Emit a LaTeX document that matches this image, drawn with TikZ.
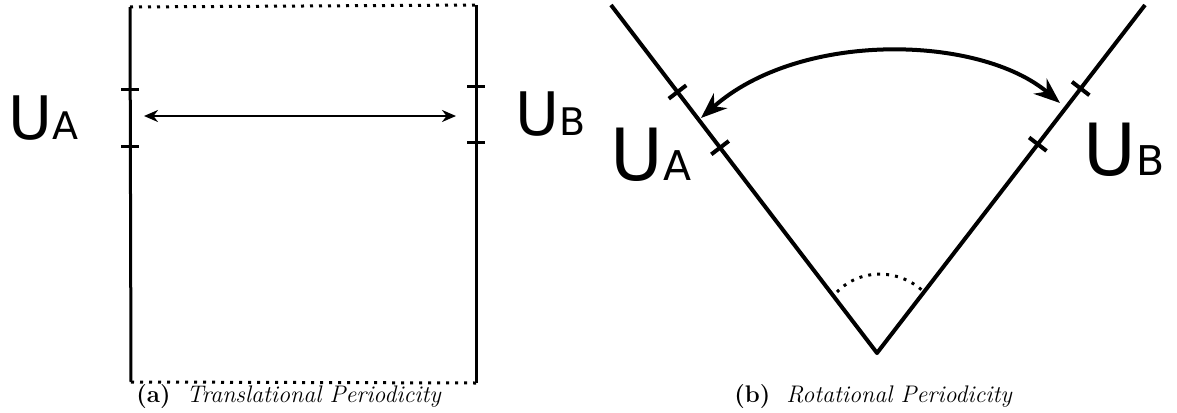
\documentclass[tikz,border=0pt]{standalone}
\usepackage{fontspec}
\newfontfamily\labelfont{DejaVu Sans}
\usetikzlibrary{calc,arrows.meta}

\newcommand{\portlabel}[3]{{\fontsize{#1}{#1}\selectfont U}{\fontsize{#2}{#2}\selectfont #3}}

\begin{document}
\begin{tikzpicture}[x=0.5pt, y=-0.5pt, line join=round]
\useasboundingbox (0,0) rectangle (1177,412);

\tikzset{
  wall/.style={line width=1.5pt},
  wedge/.style={line width=2pt},
  openside/.style={line width=1.5pt, dash pattern=on 1.5pt off 3pt},
  ulabel/.style={inner sep=0pt, anchor=base west, font=\labelfont},
  subcap/.style={inner sep=0pt, anchor=base west, font=\fontsize{12}{14}\selectfont},
}

% (a) translational periodicity
\coordinate (tl) at (130,7);
\coordinate (tr) at (476,5);
\coordinate (bl) at (131,382);
\coordinate (br) at (476,383);
\draw[wall] (tl) -- (bl);
\draw[wall] (tr) -- (br);
\draw[openside] (tl) -- (tr);
\draw[openside] (bl) -- (br);

% boundary patches
\foreach \y in {89,146} \draw[wall] (121,\y) -- (139,\y);
\foreach \y in {86,142} \draw[wall] (467,\y) -- (485,\y);

\coordinate (pa) at (144,116);
\coordinate (pb) at (456,116);
\draw[{Stealth[length=7pt,width=6pt]}-{Stealth[length=7pt,width=6pt]}, line width=1.2pt] (pa) -- (pb);

\node[ulabel] (uaL) at (8,139) {\portlabel{30}{19}{A}};
\node[ulabel] (ubL) at (515,135) {\portlabel{30}{19}{B}};

\node[subcap] (capa) at (136,402) {\textbf{(a)}\hspace{8pt}\textit{Translational Periodicity}};

% (b) rotational periodicity
\coordinate (apex) at (877,353);
\coordinate (wl) at (611,5);
\coordinate (wr) at (1145,5);
\draw[wedge] (wl) -- (apex) -- (wr);

% boundary patches
\foreach \t in {0.59,0.75} {
  \coordinate (p) at ($(apex)!\t!(wl)$);
  \draw[wedge] ($(p)!5.5pt!90:(apex)$) -- ($(p)!5.5pt!-90:(apex)$);
}
\foreach \t in {0.60,0.76} {
  \coordinate (q) at ($(apex)!\t!(wr)$);
  \draw[wedge] ($(q)!5.5pt!90:(apex)$) -- ($(q)!5.5pt!-90:(apex)$);
}

\coordinate (arcL) at (701,118);
\coordinate (arcR) at (1060,103);
\draw[{Stealth[length=13pt,width=10pt]}-{Stealth[length=13pt,width=10pt]}, line width=2pt]
  (arcL) .. controls (800,30) and (980,35) .. (arcR);

% angle
\draw[openside] (837,292) .. controls (860,268) and (900,268) .. (925,293);

\node[ulabel] (uaR) at (610,180) {\portlabel{36}{20.5}{A}};
\node[ulabel] (ubR) at (1083,175) {\portlabel{36}{20.5}{B}};

\node[subcap] (capb) at (734,402) {\textbf{(b)}\hspace{8pt}\textit{Rotational Periodicity}};
\end{tikzpicture}
\end{document}
